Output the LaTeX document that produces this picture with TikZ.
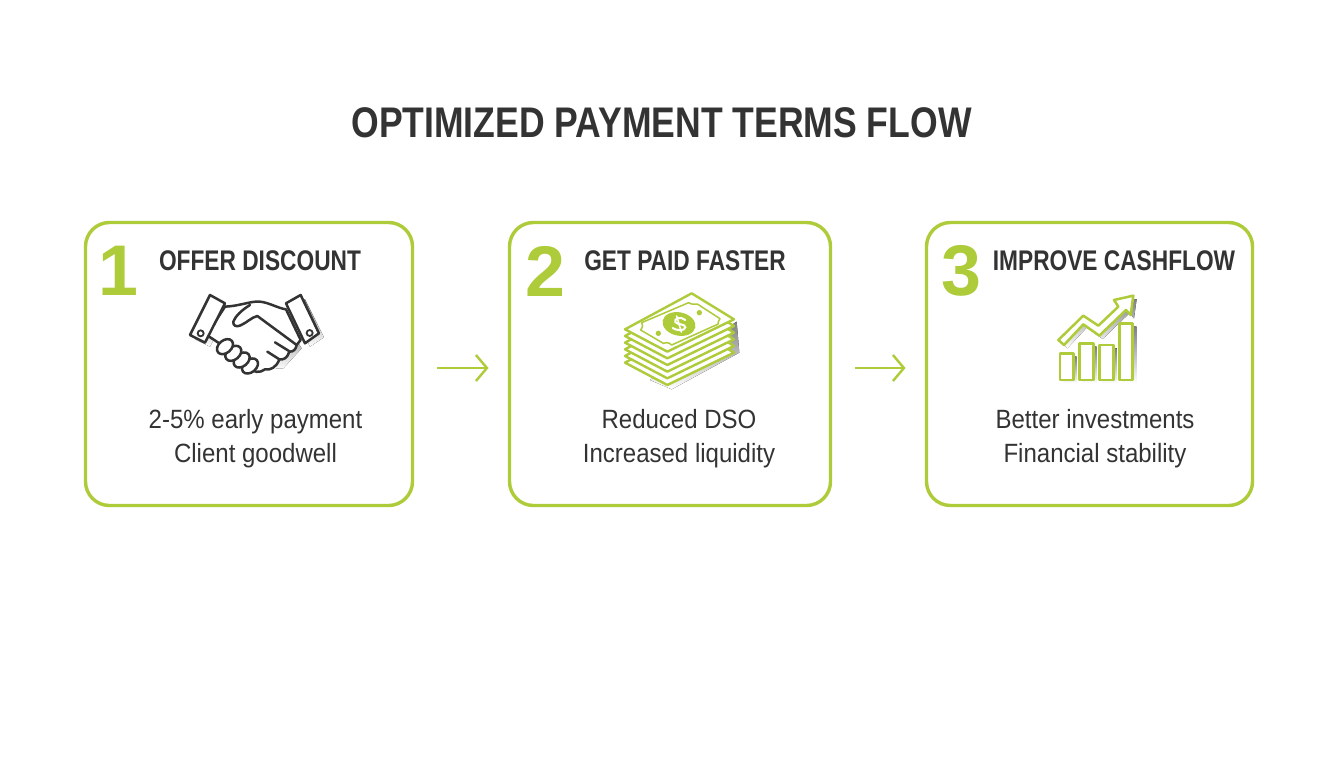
\documentclass[tikz,border=0pt]{standalone}
\usepackage{fontspec}
\usetikzlibrary{arrows.meta}
\setmainfont{Liberation Sans}
\newfontfamily\titlebold[FakeStretch=0.83]{Liberation Sans Bold}
\newfontfamily\narrowbold[FakeStretch=0.80]{Liberation Sans Bold}
\newfontfamily\narrowreg[FakeStretch=0.91]{Liberation Sans}
\definecolor{lime}{HTML}{AECB3A}
\definecolor{ink}{HTML}{333333}
\definecolor{shade}{HTML}{E0E0E0}
\tikzset{
  card/.style={draw=lime,line width=3.4bp,rounded corners=24bp,fill=white,inner sep=0pt,outer sep=0pt,anchor=north west},
  flow/.style={draw=lime,line width=2.4bp,-{Straight Barb[length=11bp,width=26bp,line width=2.4bp]},shorten <=24bp,shorten >=21bp},
  titletxt/.style={font=\titlebold\fontsize{43}{48}\selectfont,text=ink},
  headtxt/.style={font=\narrowbold\fontsize{28.5}{32}\selectfont,text=ink},
  numtxt/.style={font=\fontspec{Liberation Sans Bold}\fontsize{72}{80}\selectfont,text=lime},
  bodytxt/.style={font=\narrowreg\fontsize{26.5}{34}\selectfont,text=ink,align=center},
  hand/.style={draw=ink,line width=2.5bp,line join=round,line cap=round,fill=white},
  handline/.style={draw=ink,line width=2.5bp,line join=round,line cap=round},
  bill/.style={draw=lime,line width=2.4bp,line join=round,fill=white},
  chart/.style={draw=lime,line width=2.5bp,line join=round,fill=white},
}
\begin{document}
\begin{tikzpicture}[x=1bp,y=-1bp]
\useasboundingbox (0,0) rectangle (1344,768);
\fill[white] (0,0) rectangle (1344,768);
\node[titletxt] (title) at (661.5,123) {OPTIMIZED PAYMENT TERMS FLOW};

\node[card,minimum width=327bp,minimum height=283bp] (box1) at (85.5,222.5) {};
\node[card,minimum width=321bp,minimum height=283bp] (box2) at (509.5,222.5) {};
\node[card,minimum width=326bp,minimum height=283bp] (box3) at (926.5,222.5) {};

\node[numtxt] (n1) at (118,271) {1};
\node[numtxt] (n2) at (545,271) {2};
\node[numtxt] (n3) at (961,271) {3};

\node[headtxt] (h1) at (260,261) {OFFER DISCOUNT};
\node[headtxt] (h2) at (685,261) {GET PAID FASTER};
\node[headtxt] (h3) at (1114,261) {IMPROVE CASHFLOW};

\node[bodytxt] (b1) at (255.5,439) {2-5\% early payment\\Client goodwell};
\node[bodytxt] (b2) at (679,439) {Reduced DSO\\Increased liquidity};
\node[bodytxt] (b3) at (1095,439) {Better investments\\Financial stability};

\draw[flow] ([yshift=-4bp]box1.east) -- ([yshift=-4bp]box2.west);
\draw[flow] ([yshift=-4bp]box2.east) -- ([yshift=-4bp]box3.west);

% handshake icon
\begin{scope}[shift={(170,280)},x=0.3333bp,y=-0.3333bp]
  \fill[shade] (135,60) -- (180,85) -- (120,200) -- (75,178) -- cycle;
  \fill[shade] (360,82) -- (405,58) -- (462,172) -- (420,200) -- cycle;
  \fill[shade] (250,270) -- (340,265) -- (395,205) -- (340,120) -- (230,200) -- cycle;
  \path[hand] (165,80) .. controls (210,78) and (245,62) .. (270,65) .. controls (295,67) and (325,85) .. (348,88) -- (392,180) -- (380,195) .. controls (378,208) and (370,216) .. (358,215) .. controls (352,235) and (340,240) .. (328,238) .. controls (320,262) and (300,272) .. (285,268) .. controls (270,280) and (250,278) .. (235,262) -- (145,188) -- (110,165) -- cycle;
  \path[hand] (120,45) -- (165,70) -- (105,188) -- (60,165) -- cycle;
  \path[hand] (348,70) -- (392,45) -- (447,160) -- (405,190) -- cycle;
  \draw[handline] (240,75) .. controls (215,90) and (195,110) .. (190,125) .. controls (188,138) and (200,142) .. (212,136) .. controls (230,128) and (245,112) .. (262,108) -- (380,195);
  \draw[handline] (315,187) -- (360,215);
  \draw[handline] (292,215) -- (328,238);
  \foreach \cx/\cy in {240/258,215/240,190/220,165/200}
    \path[hand,rotate around={40:(\cx,\cy)}] (\cx,\cy) ellipse [x radius=27,y radius=19];
  \path[draw=ink,line width=1.8bp,fill=white] (92,160) circle (9);
  \path[draw=ink,line width=1.8bp,fill=white] (419,159) circle (9);
\end{scope}

% money icon
\begin{scope}[shift={(610,280)},x=0.3333bp,y=-0.3333bp]
  \fill[shade] (380,125) -- (388,218) -- (185,328) -- (120,300) -- cycle;
  \foreach \d in {100,80,60,40,20}
    \path[bill] (245,{40+\d}) -- (372,{118+\d}) -- (172,{215+\d}) -- (45,{148+\d}) -- cycle;
  \path[bill] (245,40) -- (372,118) -- (172,215) -- (45,148) -- cycle;
  \draw[draw=lime,line width=1.5bp,line join=round] (236,68) .. controls (245,75) and (258,72) .. (262,72) -- (330,116) .. controls (322,128) and (325,132) .. (325,132) -- (185,195) .. controls (175,185) and (165,188) .. (160,190) -- (92,150) .. controls (100,140) and (98,132) .. (95,128) -- cycle;
  \fill[lime,rotate around={-12:(207,132)}] (207,132) ellipse [x radius=50,y radius=35];
  \fill[lime] (268,98) circle (8);
  \fill[lime] (145,160) circle (8);
  \draw[white,line width=2bp,line cap=round] (226,120) .. controls (214,108) and (190,116) .. (196,126) .. controls (202,136) and (226,130) .. (226,142) .. controls (224,154) and (198,152) .. (188,144);
  \draw[white,line width=1.6bp,line cap=round] (200,108) -- (214,156);
\end{scope}

% chart icon
\begin{scope}[shift={(1040,285)},x=0.3333bp,y=-0.3333bp]
  \fill[shade] (70,215) rectangle (110,295);
  \fill[shade] (128,185) rectangle (170,295);
  \fill[shade] (188,190) rectangle (230,295);
  \fill[shade] (248,125) rectangle (290,295);
  \fill[shade] (65,175) -- (140,102) -- (185,132) -- (245,75) -- (232,55) -- (290,42) -- (282,100) -- (268,85) -- (188,162) -- (140,128) -- (82,190) -- cycle;
  \path[chart] (60,205) rectangle (100,285);
  \path[chart] (118,175) rectangle (160,285);
  \path[chart] (178,180) rectangle (220,285);
  \path[chart] (238,115) rectangle (278,285);
  \path[chart] (55,165) -- (130,92) -- (175,122) -- (235,65) -- (222,45) -- (280,32) -- (272,90) -- (258,75) -- (178,152) -- (130,118) -- (72,180) -- cycle;
\end{scope}
\end{tikzpicture}
\end{document}
